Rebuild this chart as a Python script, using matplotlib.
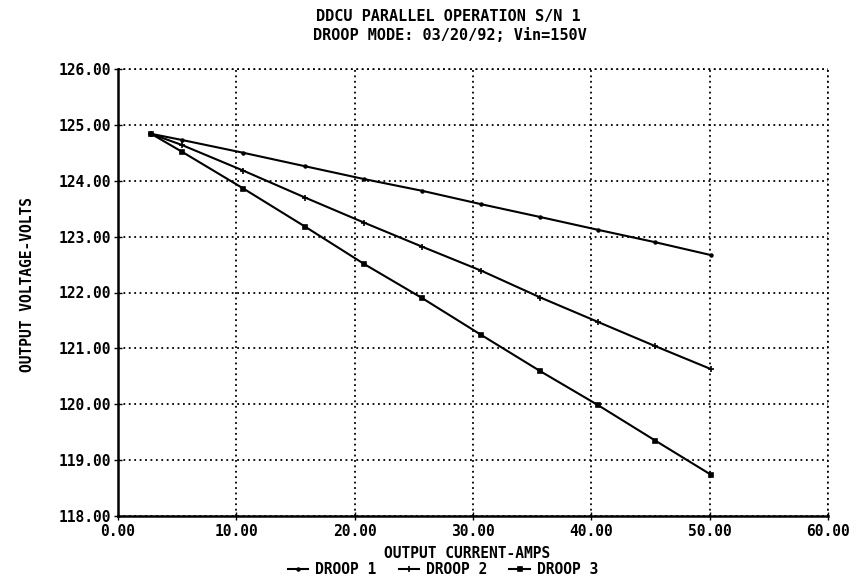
import matplotlib
matplotlib.use("Agg")
import matplotlib.pyplot as plt

# output current (A) for each reading, same for all three runs
current = [2.8, 5.4, 10.6, 15.8, 20.8, 25.7, 30.7, 35.7, 40.6, 45.4, 50.1]

droop1 = [124.84, 124.73, 124.50, 124.26, 124.03, 123.82, 123.58, 123.35, 123.12, 122.90, 122.67]
droop2 = [124.84, 124.64, 124.18, 123.70, 123.25, 122.82, 122.39, 121.91, 121.47, 121.04, 120.63]
droop3 = [124.84, 124.52, 123.86, 123.18, 122.51, 121.90, 121.24, 120.59, 119.98, 119.35, 118.74]

series = [("DROOP 1", droop1, "o", 2),
          ("DROOP 2", droop2, "+", 5),
          ("DROOP 3", droop3, "s", 3.5)]

x_ticks = [0, 10, 20, 30, 40, 50, 60]
y_ticks = [118, 119, 120, 121, 122, 123, 124, 125, 126]

plt.rcParams["font.family"] = "DejaVu Sans Mono"
plt.rcParams["font.weight"] = "bold"

fig = plt.figure(figsize=(8.61, 5.88), dpi=100)
ax = fig.add_axes([118/861, 1 - 516/588, (828-118)/861, (516-69)/588])

for name, vals, mk, ms in series:
    ax.plot(current, vals, color="black", linewidth=1.5, marker=mk,
            markersize=ms, markeredgewidth=1.2, label=name)

ax.set_xlim(0, 60)
ax.set_ylim(118, 126)
ax.set_xticks(x_ticks)
ax.set_yticks(y_ticks)
ax.set_xticklabels([f"{v:.2f}" for v in x_ticks])
ax.set_yticklabels([f"{v:.2f}" for v in y_ticks])
ax.tick_params(direction="inout", length=6, width=1, labelsize=10.5, pad=2, colors="black")
ax.tick_params(axis="x", pad=3)

ax.grid(True, color="black", linestyle=(0, (1, 2)), linewidth=1.3)
ax.spines["top"].set_visible(False)
ax.spines["right"].set_visible(False)
ax.spines["left"].set_linewidth(1.8)
ax.spines["bottom"].set_linewidth(1.8)

# grid lines on the outer edges (top and right are dotted in the original)
ax.axhline(126, color="black", linestyle=(0, (1, 2)), linewidth=1.3, clip_on=False)
ax.axvline(60, color="black", linestyle=(0, (1, 2)), linewidth=1.3, clip_on=False)

fig.text(448/861, 1 - 17/588, "DDCU PARALLEL OPERATION S/N 1", ha="center", va="center", fontsize=11)
fig.text(450/861, 1 - 35/588, "DROOP MODE: 03/20/92; Vin=150V", ha="center", va="center", fontsize=11)

fig.text(467/861, 1 - 553/588, "OUTPUT CURRENT-AMPS", ha="center", va="center", fontsize=10.5)
fig.text(28/861, 1 - 285/588, "OUTPUT VOLTAGE-VOLTS", ha="center", va="center",
         rotation=90, fontsize=10.5)

fig.legend(loc="center", bbox_to_anchor=(443/861, 1 - 570/588), ncol=3, frameon=False,
           fontsize=10.5, handlelength=1.4, handletextpad=0.5, columnspacing=1.5,
           borderaxespad=0, borderpad=0)

fig.savefig("out.png", dpi=100)
